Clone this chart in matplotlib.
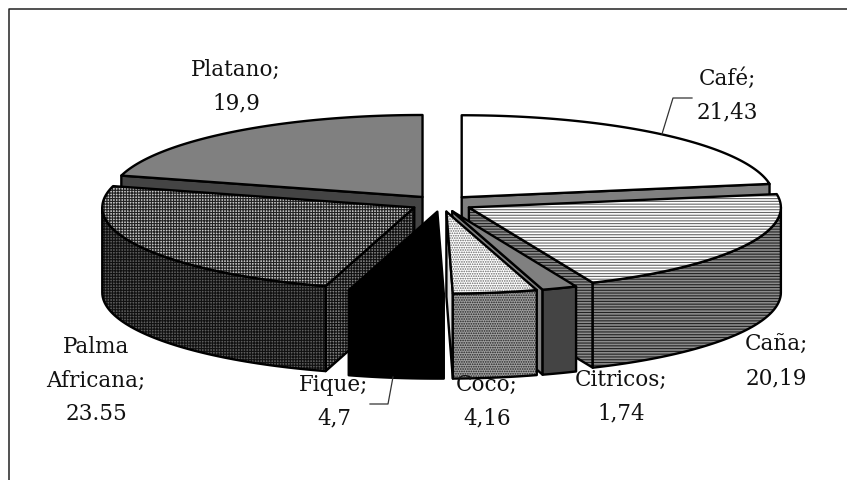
import numpy as np
import matplotlib
matplotlib.use('Agg')
import matplotlib.pyplot as plt
from matplotlib.patches import Polygon

names = ['Café', 'Caña', 'Citricos', 'Coco', 'Fique', 'Palma Africana', 'Platano']
values = [21.43, 20.19, 1.74, 4.16, 4.7, 23.55, 19.9]
value_text = ['21,43', '20,19', '1,74', '4,16', '4,7', '23.55', '19,9']

# top face, side wall, cut face : (color, hatch, hatch color)
top_style = [('white', None, None), ('white', '------', '#666666'), ('#808080', None, None),
             ('white', '.......', '#666666'), ('black', None, None),
             ('#c8c8c8', '++++++', '#222222'), ('#808080', None, None)]
wall_style = [('#808080', None, None), ('#8c8c8c', '------', '#222222'), ('#444444', None, None),
              ('#a0a0a0', '.......', '#222222'), ('black', None, None),
              ('#5c5c5c', '++++++', '#111111'), ('#444444', None, None)]
cut_style = [('#808080', None, None), ('#8c8c8c', '------', '#222222'), ('#808080', None, None),
             ('#e0e0e0', None, None), ('black', None, None),
             ('#808080', '++++++', '#111111'), ('#444444', None, None)]

# label position per slice, one row of text each
label_x = [727, 776, 621, 487, 334, 96, 236]
label_y = [79, 345, 380, 385, 385, 347, 70]

# draw order, back slices first
order = [6, 0, 5, 1, 2, 3, 4]

cx, cy = 441.5, 204.5
rx, ry = 312, 82
depth = 85
explode = 0.1

plt.rcParams['font.family'] = 'DejaVu Serif'
plt.rcParams['hatch.linewidth'] = 0.8

fig = plt.figure(figsize=(8.47, 4.81), dpi=100)
ax = fig.add_axes([0, 0, 1, 1])
ax.set_xlim(0, 847)
ax.set_ylim(481, 0)
ax.axis('off')


def face(pts, style, z):
    col, hatch, hcol = style
    if hatch:
        ax.add_patch(Polygon(pts, facecolor=col, edgecolor=hcol, hatch=hatch, lw=0, zorder=z))
    else:
        ax.add_patch(Polygon(pts, facecolor=col, edgecolor='none', zorder=z))
    ax.add_patch(Polygon(pts, fill=False, edgecolor='black', lw=1.7, joinstyle='round', zorder=z + 0.1))


def rim(x0, y0, a):
    return x0 + rx * np.sin(a), y0 - ry * np.cos(a)


# frame, only left and top are there
ax.plot([8.5, 8.5, 847], [481, 10, 10], color='#222222', lw=1.1, zorder=1)

angles = np.concatenate([[0], np.cumsum(values)]) / sum(values) * 2 * np.pi

for n, i in enumerate(order):
    a0, a1 = angles[i], angles[i + 1]
    mid = (a0 + a1) / 2
    x0 = cx + explode * rx * np.sin(mid)
    y0 = cy - explode * ry * np.cos(mid)
    z = 2 + n

    # cut faces that look to the viewer
    for a, seen in [(a0, np.sin(a0) < -1e-6), (a1, np.sin(a1) > 1e-6)]:
        if seen:
            ex, ey = rim(x0, y0, a)
            pts = [(x0, y0), (ex, ey), (ex, ey + depth), (x0, y0 + depth)]
            face(pts, cut_style[i], z)

    # outer wall, front half of the ellipse only
    w0, w1 = max(a0, np.pi / 2), min(a1, 3 * np.pi / 2)
    if w1 > w0:
        t = np.linspace(w0, w1, 60)
        ex, ey = rim(x0, y0, t)
        pts = list(zip(ex, ey)) + list(zip(ex[::-1], ey[::-1] + depth))
        face(pts, wall_style[i], z + 0.2)

    t = np.linspace(a0, a1, 80)
    ex, ey = rim(x0, y0, t)
    face([(x0, y0)] + list(zip(ex, ey)), top_style[i], z + 0.4)

# leader lines
ax.plot([662, 673, 692], [135, 99, 99], color='#333333', lw=0.9, zorder=20)
ax.plot([393, 388, 370], [378, 405, 405], color='#333333', lw=0.9, zorder=20)

for i, name in enumerate(names):
    rows = name.split(' ')
    rows[-1] += ';'
    rows.append(value_text[i])
    for r, row in enumerate(rows):
        ax.text(label_x[i], label_y[i] + r * 33.7, row, ha='center', va='center',
                fontsize=15.5, color='#111111', zorder=30)

fig.savefig('out.png', dpi=100)
